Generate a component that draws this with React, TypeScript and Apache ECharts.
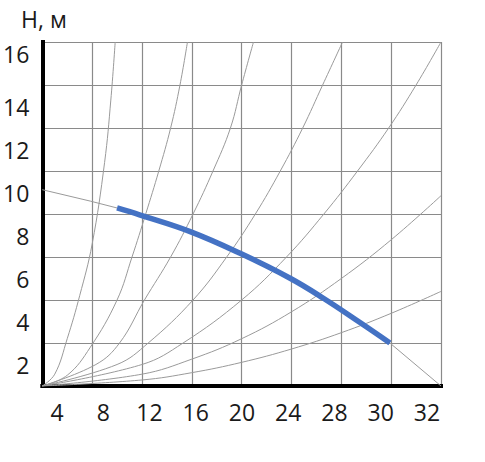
import { useEffect, useRef } from 'react';
import * as echarts from 'echarts';

const xLabels = ['4', '8', '12', '16', '20', '24', '28', '30', '32'];
const yLabels = ['2', '4', '6', '8', '10', '12', '14', '16'];

// рабочий участок кривой насоса (Q, H)
const pumpWork = [
  [6, 8.28], [7.86, 7.95], [11.87, 7.18], [15.88, 6.17],
  [19.89, 5.01], [22.56, 4.08], [25.5, 2.95], [27.9, 2.0]
];
// продолжение кривой тонкой линией
const pumpLeft = [[0, 9.13], [3.85, 8.6], [6, 8.28]];
const pumpRight = [[27.9, 2.0], [32, 0]];

// характеристики сети
const curveG = [[0, 0], [1, 0.55], [2, 2.2], [3, 4.2], [4, 6.6], [5, 10.4], [5.5, 13.3], [5.85, 16]];
const curveF = [[0, 0], [2, 0.5], [3.85, 1.8], [6, 4], [7.2, 6], [8.3, 8], [9.35, 10], [10.3, 12], [11.05, 14], [11.65, 16]];
const curveE = [[0, 0], [4.3, 1], [6.2, 2], [8.2, 4], [10.3, 6], [12.1, 8], [13.7, 10], [15.1, 12], [16.0, 14], [16.95, 16]];
const curveD = [[0, 0], [6, 1], [8.5, 2], [12.1, 4], [14.8, 6], [17.1, 8], [19.1, 10], [20.9, 12], [22.5, 14], [24.1, 16]];
const curveC = [[0, 0], [8, 1], [11.3, 2], [16, 4], [19.6, 6], [22.6, 8], [25.3, 10], [27.8, 12], [30, 14], [32, 16]];
const curveB = [[0, 0], [8, 0.55], [12, 1.25], [16, 2.2], [20, 3.45], [24, 5], [28, 6.8], [32, 8.85]];
const curveA = [[0, 0], [8, 0.28], [12, 0.62], [16, 1.1], [20, 1.72], [24, 2.48], [28, 3.38], [32, 4.4]];

const FONT = '"Open Sans", sans-serif';
const TEXT = '#1a1a1a';
const FS = 23;

export default function App() {
  const chartRef = useRef<HTMLDivElement>(null);

  useEffect(() => {
    document.body.style.margin = '0';
    if (!chartRef.current) return;
    const chart = echarts.init(chartRef.current, null, { renderer: 'svg' });

    const thin = (data: number[][]) => ({
      type: 'line' as const,
      data,
      smooth: 0.4,
      showSymbol: false,
      silent: true,
      lineStyle: { color: '#9a9a9a', width: 1 },
      z: 2
    });

    const option: echarts.EChartsOption = {
      animation: false,
      backgroundColor: '#fff',
      title: {
        text: 'H, м',
        left: 16,
        top: 2,
        textStyle: { fontSize: FS, fontWeight: 'normal', color: TEXT, fontFamily: FONT }
      },
      grid: [
        { left: 42, right: 44, top: 42, bottom: 76 },
        { left: 57, right: 58, top: 42, bottom: 76 }
      ],
      xAxis: [
        {
          type: 'value',
          gridIndex: 0,
          min: 0,
          max: 32,
          interval: 4,
          axisLine: { lineStyle: { color: '#000', width: 4, cap: 'square' } },
          axisTick: { show: false },
          axisLabel: { show: false },
          splitLine: { lineStyle: { color: '#8a8a8a', width: 1.2 } }
        },
        {
          type: 'category',
          gridIndex: 1,
          data: xLabels,
          boundaryGap: false,
          axisLine: { show: false },
          axisTick: { show: false },
          splitLine: { show: false },
          axisLabel: { margin: 14, fontSize: FS, color: TEXT, fontFamily: FONT, interval: 0 }
        }
      ],
      yAxis: [
        {
          type: 'value',
          gridIndex: 0,
          position: 'left',
          min: 0,
          max: 16,
          interval: 2,
          axisLine: { show: true, lineStyle: { color: '#000', width: 4, cap: 'square' } },
          axisTick: { show: false },
          axisLabel: { show: false },
          splitLine: { lineStyle: { color: '#8a8a8a', width: 1.2 } }
        },
        {
          type: 'category',
          gridIndex: 0,
          position: 'left',
          data: yLabels,
          boundaryGap: true,
          axisLine: { show: false },
          axisTick: { show: false },
          splitLine: { show: false },
          axisLabel: {
            margin: 13,
            fontSize: FS,
            color: TEXT,
            fontFamily: FONT,
            interval: 0,
            formatter: (v: string) => (v === '16' ? '{top|16}' : v),
            rich: {
              top: { fontSize: FS, color: TEXT, fontFamily: FONT, padding: [0, 0, 20, 0] }
            }
          }
        },
        { type: 'value', gridIndex: 1, show: false }
      ],
      series: [
        thin(curveG),
        thin(curveF),
        thin(curveE),
        thin(curveD),
        thin(curveC),
        thin(curveB),
        thin(curveA),
        { ...thin(pumpLeft), smooth: false },
        { ...thin(pumpRight), smooth: false },
        {
          type: 'line',
          data: pumpWork,
          smooth: 0.4,
          showSymbol: false,
          lineStyle: { color: '#4472C4', width: 5.5 },
          z: 5
        }
      ]
    };

    chart.setOption(option);
    return () => chart.dispose();
  }, []);

  return <div ref={chartRef} style={{ width: 485, height: 462 }} />;
}
